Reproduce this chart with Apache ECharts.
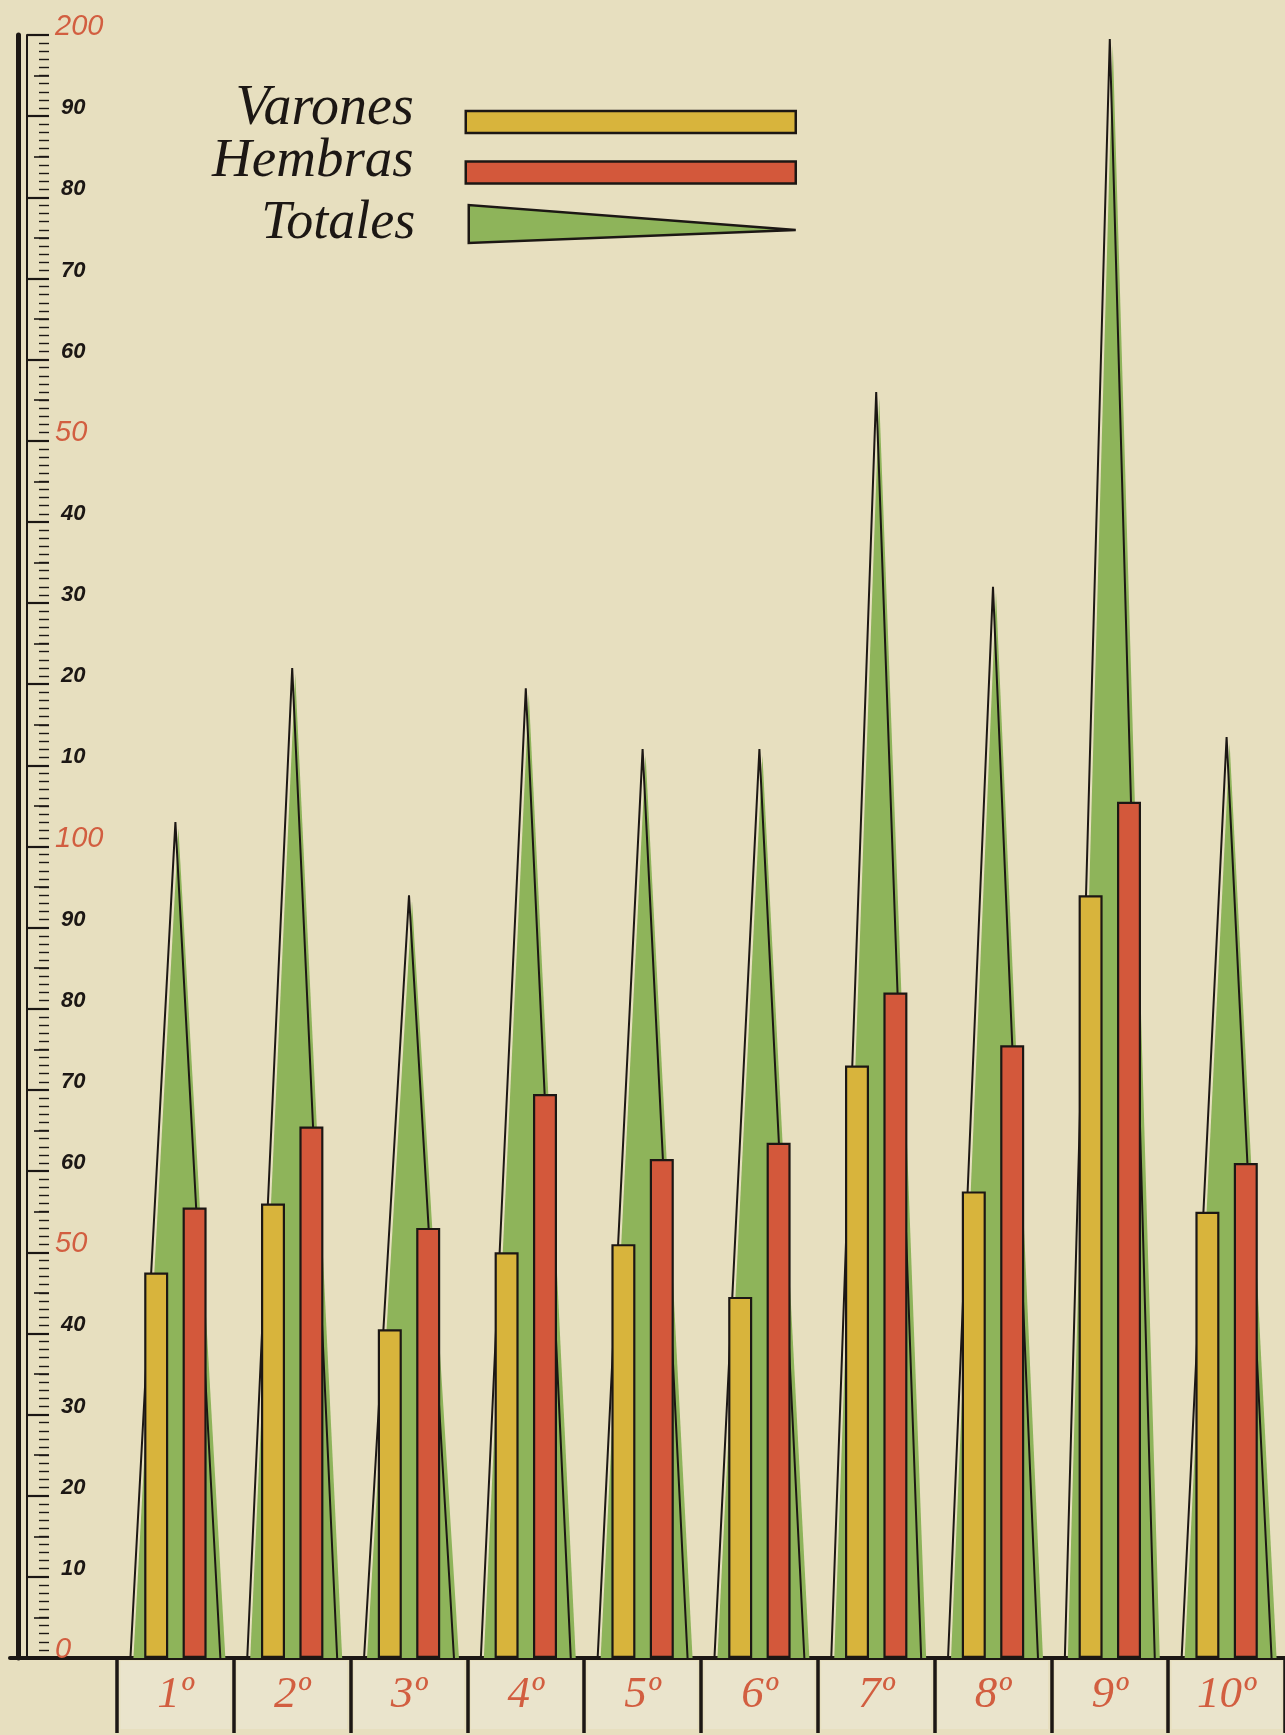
<!DOCTYPE html>
<html>
<head>
<meta charset="utf-8">
<script src="https://cdn.jsdelivr.net/npm/echarts@6/dist/echarts.min.js"></script>
<style>
  html, body { margin: 0; padding: 0; background: #e7dfbf; }
  #chart { width: 1285px; height: 1735px; }
</style>
</head>
<body>
<div id="chart"></div>
<script>
// ---- data ----
const categories = ['1º', '2º', '3º', '4º', '5º', '6º', '7º', '8º', '9º', '10º'];
const varones = [47.5, 56, 40.5, 50, 51, 44.5, 73, 57.5, 94, 55];
const hembras = [55.5, 65.5, 53, 69.5, 61.5, 63.5, 82, 75.5, 105.5, 61];
const totales = [103, 122, 94, 119.5, 112, 112, 156, 132, 199.5, 113.5];
const yTickLabels = ['0', '10', '20', '30', '40', '50', '60', '70', '80', '90',
                     '100', '10', '20', '30', '40', '50', '60', '70', '80', '90', '200'];
const redTicks = [0, 50, 100, 150, 200];

// ---- styles ----
const paper = '#e7dfbf';
const ink = '#1c1714';
const yellow = '#d8b43c';
const red = '#d3583b';
const green = '#8eb45a';
const labelRed = '#d25e40';
const scriptFont = "'Liberation Serif', 'DejaVu Serif', serif";

const chart = echarts.init(document.getElementById('chart'), null, { renderer: 'canvas' });

function legendFor(name, icon, top, iconH, padBottom, fontSize) {
  return {
    data: [name],
    right: 488,
    top: top,
    align: 'right',
    orient: 'vertical',
    icon: icon,
    itemWidth: 330,
    itemHeight: iconH,
    padding: 0,
    selectedMode: false,
    itemStyle: { borderColor: ink, borderWidth: 2.5 },
    formatter: n => '{t|' + n + '}',
    textStyle: {
      rich: {
        t: {
          fontFamily: scriptFont, fontStyle: 'italic', fontSize: fontSize,
          lineHeight: 60, color: ink, padding: [0, 47, padBottom, 0]
        }
      }
    }
  };
}

const option = {
  animation: false,
  backgroundColor: paper,
  grid: [
    { left: 117, right: 0, top: 35, bottom: 77 },
    { left: 10, right: 0, top: 35, bottom: 77 }
  ],
  legend: [
    legendFor('Varones', 'rect', 81, 22, 26, 56),
    legendFor('Hembras', 'rect', 134, 22, 22, 55),
    legendFor('Totales', 'path://M0,0 L0,38 L327,25 Z', 197, 38, 0, 54)
  ],
  xAxis: [
    {
      type: 'category', gridIndex: 0, data: categories,
      axisLine: { show: false },
      axisTick: { show: true, interval: 0, length: 75, lineStyle: { color: ink, width: 3.5 } },
      axisLabel: {
        interval: 0, margin: 3,
        formatter: v => '{c|' + v + '}',
        rich: {
          c: {
            width: 110, height: 68, lineHeight: 68, align: 'center',
            backgroundColor: '#eae4cc',
            fontFamily: scriptFont, fontStyle: 'italic', fontSize: 45, color: labelRed
          }
        }
      },
      splitLine: { show: false }
    },
    {
      type: 'category', gridIndex: 0, data: categories, position: 'bottom', offset: 74,
      axisLine: { show: true, lineStyle: { color: ink, width: 3.5 } },
      axisTick: { show: false }, axisLabel: { show: false }, splitLine: { show: false }
    },
    {
      type: 'value', gridIndex: 1, min: 0, max: 1,
      axisLine: { show: true, onZero: false, lineStyle: { color: ink, width: 4 } },
      axisTick: { show: false }, axisLabel: { show: false }, splitLine: { show: false }
    }
  ],
  yAxis: [
    {
      type: 'value', gridIndex: 0, min: 0, max: 200, interval: 10,
      position: 'left', offset: 68,
      axisLine: { show: false },
      axisTick: { show: true, length: 22, lineStyle: { color: ink, width: 2.2 } },
      minorTick: { show: true, splitNumber: 10, length: 10, lineStyle: { color: ink, width: 1.4 } },
      axisLabel: {
        inside: true, margin: 6, align: 'left',
        formatter: v => {
          const s = yTickLabels[Math.round(v / 10)];
          return redTicks.indexOf(v) >= 0 ? '{r|' + s + '}' : '{b|' + s + '}';
        },
        rich: {
          b: { fontFamily: "'Liberation Sans', sans-serif", fontStyle: 'italic', fontWeight: 'bold',
               fontSize: 22, color: ink, padding: [0, 0, 16, 6] },
          r: { fontFamily: "'Liberation Sans', sans-serif", fontStyle: 'italic', fontSize: 29,
               color: labelRed, padding: [0, 0, 16, 0] }
        }
      },
      splitLine: { show: false }
    },
    {
      type: 'value', gridIndex: 0, min: 0, max: 200, interval: 5,
      position: 'left', offset: 68,
      axisLine: { show: false },
      axisTick: { show: true, length: 15, lineStyle: { color: ink, width: 1.6 } },
      axisLabel: { show: false }, splitLine: { show: false }
    },
    {
      type: 'value', gridIndex: 0, min: 0, max: 200, interval: 10,
      position: 'left', offset: 90,
      axisLine: { show: true, lineStyle: { color: ink, width: 2 } },
      axisTick: { show: false }, axisLabel: { show: false }, splitLine: { show: false }
    },
    {
      type: 'value', gridIndex: 0, min: 0, max: 200, interval: 10,
      position: 'left', offset: 99,
      axisLine: { show: true, lineStyle: { color: ink, width: 5 } },
      axisTick: { show: false }, axisLabel: { show: false }, splitLine: { show: false }
    },
    { type: 'value', gridIndex: 1, show: false }
  ],
  series: [
    {
      name: 'Totales', type: 'custom', xAxisIndex: 0, yAxisIndex: 0,
      itemStyle: { color: green },
      encode: { x: 0, y: 1 },
      data: totales.map((v, i) => [i, v]),
      z: 2,
      renderItem: (params, api) => {
        const i = api.value(0), t = api.value(1);
        const top = api.coord([i, t]);
        const base = api.coord([i, 0]);
        const half = api.size([1, 0])[0] * 0.385;
        const L = [base[0] - half, base[1]];
        const R = [base[0] + half, base[1]];
        const A = [top[0], top[1]];
        return {
          type: 'group',
          children: [
            { type: 'polygon',
              shape: { points: [[L[0] + 3, L[1]], [A[0] + 3, A[1] + 6], [R[0] + 5, R[1]]] },
              style: { fill: api.visual('color') } },
            { type: 'polyline',
              shape: { points: [L, A, R] },
              style: { stroke: ink, lineWidth: 2, fill: null } }
          ]
        };
      }
    },
    {
      name: 'Varones', type: 'bar', xAxisIndex: 0, yAxisIndex: 0,
      data: varones, barWidth: 24, barGap: '60%', z: 3,
      itemStyle: { color: yellow, borderColor: ink, borderWidth: 2.2 }
    },
    {
      name: 'Hembras', type: 'bar', xAxisIndex: 0, yAxisIndex: 0,
      data: hembras, barWidth: 24, barGap: '60%', z: 3,
      itemStyle: { color: red, borderColor: ink, borderWidth: 2.2 }
    }
  ]
};

chart.setOption(option);
</script>
</body>
</html>
